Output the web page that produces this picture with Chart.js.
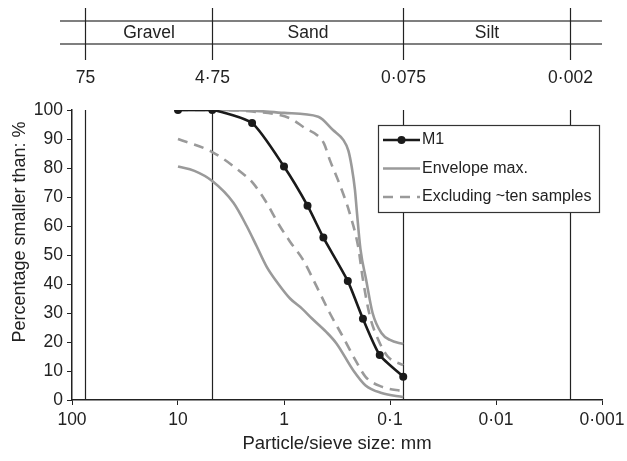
<!DOCTYPE html>
<html lang="en">
<head>
    <meta charset="UTF-8">
    <title>Particle size distribution - M1</title>
    <style>
        body {
            margin: 0;
            background: #ffffff;
        }
        .wrap {
            width: 627px;
            height: 461px;
        }
    </style>
</head>
<body>
    <div class="wrap">
        <canvas id="psd"></canvas>
    </div>

    <script src="https://cdn.jsdelivr.net/npm/chart.js"></script>
    <script>
        // Sieve sizes (mm) and percentage passing
        const m1Size = [10, 4.75, 2, 1, 0.6, 0.425, 0.25, 0.18, 0.125, 0.075];
        const m1Pass = [100, 100, 95.5, 80.5, 67, 56, 41, 28, 15.5, 8];

        const envMaxSize = [10, 4.75, 2, 1, 0.475, 0.343, 0.276, 0.247, 0.23, 0.214, 0.206, 0.19, 0.168, 0.146, 0.12, 0.1, 0.075];
        const envMaxPass = [100, 100, 99.8, 99, 97.7, 93, 89.7, 86, 80.5, 72.4, 65.5, 52, 41.5, 30, 23, 20.7, 19.3];

        const envMinSize = [10, 7, 4.75, 3, 2.25, 1.81, 1.46, 1.13, 0.877, 0.68, 0.548, 0.4, 0.32, 0.22, 0.17, 0.12, 0.075];
        const envMinPass = [80.5, 79, 75.5, 68, 60, 53, 46, 40, 35, 31.6, 28.2, 23.5, 19.5, 10, 5, 2.4, 1];

        const exclMaxSize = [10, 4.75, 2, 0.877, 0.63, 0.49, 0.42, 0.37, 0.31, 0.27, 0.245, 0.2, 0.18, 0.155, 0.13, 0.105, 0.075];
        const exclMaxPass = [100, 100, 99.5, 97.1, 93.7, 91.4, 88.5, 82.8, 75.9, 70.1, 65.5, 53, 41.5, 29, 21, 15, 12];

        const exclMinSize = [10, 4.75, 2.44, 1.96, 1.46, 1.14, 0.877, 0.66, 0.49, 0.37, 0.28, 0.21, 0.17, 0.12, 0.075];
        const exclMinPass = [90, 85.5, 78, 74.8, 68, 61, 54.6, 48.3, 39, 30, 22, 13.5, 8, 4.6, 3];

        // Axis ticks and soil class boundaries
        const xTicks = [100, 10, 1, 0.1, 0.01, 0.001];
        const boundaries = [75, 4.75, 0.075, 0.002];
        const boundaryLabels = ['75', '4·75', '0·075', '0·002'];
        const soilClasses = ['Gravel', 'Sand', 'Silt'];

        const FONT = 'Liberation Sans, Arial, Helvetica, sans-serif';
        const INK = '#222222';
        const GREY = '#9a9a9a';

        function pts(sizes, pass) {
            return sizes.map((s, i) => ({ x: s, y: pass[i] }));
        }

        function dotted(v) {
            return String(v).replace('.', '·');
        }

        // Soil class band above the plot and the boundary lines through it
        const soilBand = {
            id: 'soilBand',
            beforeDatasetsDraw(chart) {
                const { ctx, chartArea, scales: { x } } = chart;
                ctx.save();
                ctx.strokeStyle = INK;
                ctx.lineWidth = 1.2;
                boundaries.forEach(b => {
                    const px = Math.round(x.getPixelForValue(b)) + 0.5;
                    ctx.beginPath();
                    ctx.moveTo(px, chartArea.top);
                    ctx.lineTo(px, chartArea.bottom);
                    ctx.stroke();
                });
                ctx.restore();
            },
            afterDraw(chart) {
                const { ctx, chartArea, scales: { x } } = chart;
                const xs = boundaries.map(b => Math.round(x.getPixelForValue(b)) + 0.5);
                ctx.save();
                ctx.strokeStyle = '#555';
                ctx.lineWidth = 1.5;
                [21, 44].forEach(y => {
                    ctx.beginPath();
                    ctx.moveTo(60, y);
                    ctx.lineTo(chartArea.right, y);
                    ctx.stroke();
                });
                ctx.strokeStyle = INK;
                ctx.lineWidth = 1.2;
                xs.forEach(px => {
                    ctx.beginPath();
                    ctx.moveTo(px, 8);
                    ctx.lineTo(px, 60);
                    ctx.stroke();
                });
                ctx.fillStyle = INK;
                ctx.font = '17.5px ' + FONT;
                ctx.textAlign = 'center';
                ctx.textBaseline = 'middle';
                soilClasses.forEach((name, i) => {
                    ctx.fillText(name, (xs[i] + xs[i + 1]) / 2, 33);
                });
                boundaryLabels.forEach((lbl, i) => {
                    ctx.fillText(lbl, xs[i], 78);
                });

                // y-axis title, set a little above the axis middle
                ctx.translate(20, chartArea.top + 122);
                ctx.rotate(-Math.PI / 2);
                ctx.font = '18px ' + FONT;
                ctx.fillText('Percentage smaller than: %', 0, 0);
                ctx.restore();
            }
        };

        // Boxed legend inside the plot, upper right
        const boxLegend = {
            id: 'boxLegend',
            afterDatasetsDraw(chart) {
                const { ctx, chartArea } = chart;
                const entries = [0, 1, 3].map(i => chart.data.datasets[i]);
                const left = chartArea.right - 224;
                const top = chartArea.top + 15;
                const w = 221, h = 87;
                ctx.save();
                ctx.fillStyle = '#fff';
                ctx.fillRect(left, top, w, h);
                ctx.strokeStyle = '#333';
                ctx.lineWidth = 1.2;
                ctx.strokeRect(left + 0.5, top + 0.5, w, h);
                ctx.font = '16px ' + FONT;
                ctx.textBaseline = 'middle';
                entries.forEach((ds, i) => {
                    const y = top + 15 + i * 28.5;
                    ctx.strokeStyle = ds.borderColor;
                    ctx.lineWidth = ds.borderWidth;
                    ctx.setLineDash(ds.borderDash || []);
                    ctx.beginPath();
                    ctx.moveTo(left + 5, y);
                    ctx.lineTo(left + 42, y);
                    ctx.stroke();
                    ctx.setLineDash([]);
                    if (ds.pointRadius) {
                        ctx.fillStyle = ds.pointBackgroundColor;
                        ctx.beginPath();
                        ctx.arc(left + 23.5, y, ds.pointRadius, 0, Math.PI * 2);
                        ctx.fill();
                    }
                    ctx.fillStyle = INK;
                    ctx.fillText(ds.label, left + 44, y);
                });
                ctx.restore();
            }
        };

        const greyLine = {
            borderColor: GREY,
            borderWidth: 2.6,
            pointRadius: 0,
            cubicInterpolationMode: 'monotone',
            fill: false
        };

        new Chart(document.getElementById('psd'), {
            type: 'line',
            data: {
                datasets: [
                    {
                        label: 'M1',
                        data: pts(m1Size, m1Pass),
                        borderColor: '#1a1a1a',
                        borderWidth: 2.6,
                        pointRadius: 4,
                        pointBackgroundColor: '#1a1a1a',
                        pointBorderWidth: 0,
                        tension: 0.2,
                        fill: false
                    },
                    Object.assign({ label: 'Envelope max.', data: pts(envMaxSize, envMaxPass) }, greyLine),
                    Object.assign({ label: 'Envelope min.', data: pts(envMinSize, envMinPass) }, greyLine),
                    Object.assign({ label: 'Excluding ~ten samples', data: pts(exclMaxSize, exclMaxPass), borderDash: [10, 7] }, greyLine),
                    Object.assign({ label: 'Excluding ~ten samples (min.)', data: pts(exclMinSize, exclMinPass), borderDash: [10, 7] }, greyLine)
                ]
            },
            options: {
                responsive: true,
                maintainAspectRatio: false,
                animation: false,
                layout: {
                    padding: { top: 110, right: 25, left: 0, bottom: 0 }
                },
                plugins: {
                    legend: { display: false },
                    tooltip: { enabled: false }
                },
                scales: {
                    x: {
                        type: 'logarithmic',
                        reverse: true,
                        min: 0.001,
                        max: 100,
                        afterBuildTicks(axis) {
                            axis.ticks = xTicks.map(v => ({ value: v }));
                        },
                        afterFit(axis) {
                            axis.height = 61;
                            axis.paddingLeft = 0;
                            axis.paddingRight = 0;
                        },
                        ticks: {
                            autoSkip: false,
                            maxRotation: 0,
                            padding: 5,
                            color: INK,
                            font: { family: FONT, size: 17.5 },
                            callback: v => dotted(v)
                        },
                        grid: {
                            drawOnChartArea: false,
                            drawTicks: true,
                            tickLength: 5,
                            color: INK
                        },
                        border: { color: INK, width: 1.5 },
                        title: {
                            display: true,
                            text: 'Particle/sieve size: mm',
                            color: INK,
                            font: { family: FONT, size: 18.5 },
                            padding: { top: 0, bottom: 6 }
                        }
                    },
                    y: {
                        min: 0,
                        max: 100,
                        afterFit(axis) {
                            axis.width = 72;
                            axis.paddingTop = 0;
                            axis.paddingBottom = 0;
                        },
                        ticks: {
                            stepSize: 10,
                            padding: 4,
                            color: INK,
                            font: { family: FONT, size: 17.5 }
                        },
                        grid: {
                            drawOnChartArea: false,
                            drawTicks: true,
                            tickLength: 5,
                            color: INK
                        },
                        border: { color: INK, width: 1.5 }
                    }
                }
            },
            plugins: [soilBand, boxLegend]
        });
    </script>
</body>
</html>
